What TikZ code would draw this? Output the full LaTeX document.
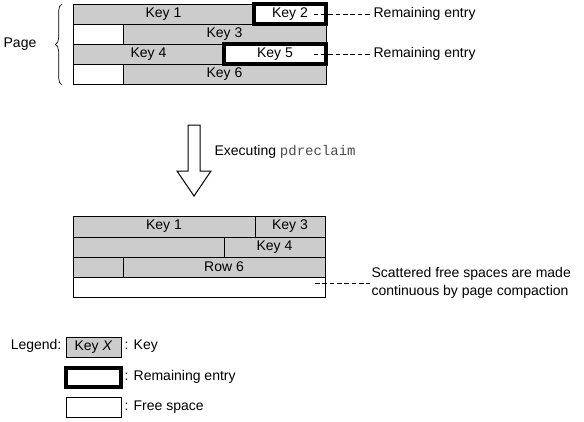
\documentclass[tikz,border=0pt]{standalone}
\usepackage{fontspec}
\setmainfont{Liberation Sans}
\setmonofont{Liberation Mono}
\usetikzlibrary{fit,decorations.pathreplacing}
\begin{document}
\begin{tikzpicture}[x=0.75pt,y=-0.75pt,
  font=\fontsize{10.5}{12.6}\selectfont,
  keycell/.style={draw,fill=gray!40,inner sep=0pt,line width=0.75pt},
  freecell/.style={draw,fill=white,inner sep=0pt,line width=0.75pt},
  remaincell/.style={draw,fill=white,inner sep=0pt,line width=2.4pt},
  note/.style={anchor=west,inner sep=1pt},
  leader/.style={dash pattern=on 3.6pt off 1.9pt,line width=0.75pt}]
  \useasboundingbox (0,0) rectangle (584,421);
  % page before reclaim
  \node[keycell,fit={(73,4) (254,24)},label=center:Key 1] (a1) {};
  \node[freecell,fit={(73,24) (123,44)}] (a3f) {};
  \node[keycell,fit={(123,24) (326,44)},label=center:Key 3] (a3) {};
  \node[keycell,fit={(73,44) (224,64)},label=center:Key 4] (a4) {};
  \node[freecell,fit={(73,64) (123,84)}] (a6f) {};
  \node[keycell,fit={(123,64) (326,84)},label=center:Key 6] (a6) {};
  \node[remaincell,fit={(254,4) (326,24)},label=center:Key 2] (a2) {};
  \node[remaincell,fit={(224,44) (326,64)},label=center:Key 5] (a5) {};
  \node[note] (rem1) at (372,14) {Remaining entry};
  \node[note] (rem2) at (372,54) {Remaining entry};
  \draw[leader] ([xshift=-10.5pt]a2.east) -- (rem1.west);
  \draw[leader] ([xshift=-10.5pt]a5.east) -- (rem2.west);
  \draw[line width=0.5pt,decorate,decoration={brace,amplitude=5pt}] (62,85) -- (62,4);
  \node (page) at (20,44) {Page};
  % block arrow
  \draw[line width=0.75pt] (188,125) -- (200,125) -- (200,171) -- (211,171)
    -- (194,196) -- (177,171) -- (188,171) -- cycle;
  \node[note] (exec) at (213,152) {Executing \textcolor{black!70}{\texttt{pdreclaim}}};
  % page after reclaim
  \node[keycell,fit={(73,216) (255,237)},label=center:Key 1] (b1) {};
  \node[keycell,fit={(255,216) (325,237)},label=center:Key 3] (b3) {};
  \node[keycell,fit={(73,237) (224,257)}] (b2) {};
  \node[keycell,fit={(224,237) (325,257)},label=center:Key 4] (b4) {};
  \node[keycell,fit={(73,257) (123,277)}] (b5) {};
  \node[keycell,fit={(123,257) (325,277)},label=center:Row 6] (b6) {};
  \node[freecell,fit={(73,277) (325,297)}] (bfree) {};
  \coordinate (btap) at (315,283);
  \node[note,align=left,font=\fontsize{10.5}{13.5}\selectfont] (scat) at (370,283)
    {Scattered free spaces are made\\continuous by page compaction};
  \draw[leader] (btap) -- (scat.west);
  % legend
  \node[anchor=east,inner sep=1pt] (leg) at (63,346) {Legend:};
  \node[keycell,fit={(66,337) (121,357)},label=center:{Key \textit{X}}] (lk) {};
  \node[note] (lkt) at (123,346) {: Key};
  \node[remaincell,fit={(66,368) (121,387)}] (lr) {};
  \node[note] (lrt) at (123,377) {: Remaining entry};
  \node[freecell,fit={(66,397) (121,417)}] (lf) {};
  \node[note] (lft) at (123,407) {: Free space};
\end{tikzpicture}
\end{document}
